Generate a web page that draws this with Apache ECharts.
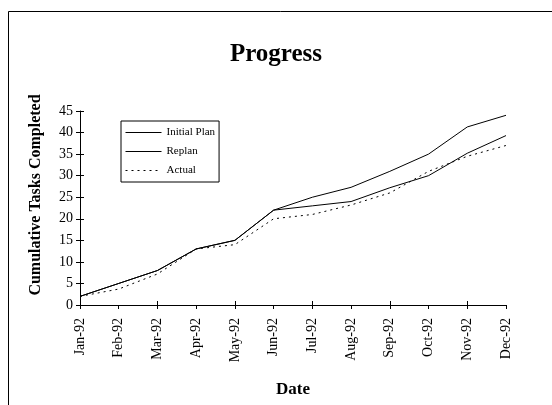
<!DOCTYPE html>
<html><head><meta charset="utf-8">
<script src="https://cdn.jsdelivr.net/npm/echarts@6/dist/echarts.min.js"></script>
<style>html,body{margin:0;padding:0;background:#fff}#c{width:552px;height:405px}</style>
</head><body><div id="c"></div>
<script>
var categories = ['Jan-92','Feb-92','Mar-92','Apr-92','May-92','Jun-92','Jul-92','Aug-92','Sep-92','Oct-92','Nov-92','Dec-92'];
var initialPlan = [2, 5, 8, 13, 15, 22, 25, 27.3, 31, 35, 41.3, 44];
var replan = [2, 5, 8, 13, 15, 22, 23, 24, 27.2, 30, 35.2, 39.3];
var actual = [2, 3.7, 7.2, 13, 14, 20, 21, 23.2, 26, 31, 34.5, 37];
var yTicks = [0, 5, 10, 15, 20, 25, 30, 35, 40, 45];

var F = '"Liberation Serif", "Times New Roman", serif';
var chart = echarts.init(document.getElementById('c'), null, {renderer: 'canvas'});
function mk(name, data, type) {
  return {name: name, type: 'line', data: data, symbol: 'none', showSymbol: false, animation: false,
    xAxisIndex: 0, yAxisIndex: 0,
    lineStyle: {color: '#000', width: 1, type: type}, itemStyle: {color: '#000'}};
}
chart.setOption({
  animation: false,
  backgroundColor: '#fff',
  graphic: [{type: 'rect', shape: {x: 8.5, y: 11.5, width: 600, height: 500}, style: {fill: 'none', stroke: '#000', lineWidth: 1}, silent: true}],
  title: {text: 'Progress', left: 'center', top: 37, textStyle: {fontFamily: F, fontSize: 25, fontWeight: 'bold', color: '#000'}},
  grid: {left: 80, right: 46, top: 111, bottom: 100},
  legend: {orient: 'vertical', left: 121, top: 121, padding: [6, 4, 6, 4], itemGap: 8, itemWidth: 36, itemHeight: 8,
    borderColor: '#000', borderWidth: 1, backgroundColor: '#fff', borderRadius: 0,
    itemStyle: {opacity: 0, color: 'rgba(0,0,0,0)', borderWidth: 0},
    lineStyle: {width: 1},
    textStyle: {fontFamily: F, fontSize: 11, color: '#000'},
    data: ['Initial Plan', 'Replan', 'Actual']},
  xAxis: [{type: 'category', data: categories, boundaryGap: false,
    name: 'Date', nameLocation: 'middle', nameGap: 76,
    nameTextStyle: {fontFamily: F, fontSize: 17, fontWeight: 'bold', color: '#000'},
    axisLine: {lineStyle: {color: '#000', width: 1}},
    axisTick: {length: 4, lineStyle: {color: '#000'}},
    axisLabel: {rotate: 90, interval: 0, fontFamily: F, fontSize: 14, color: '#000', margin: 13},
    splitLine: {show: false}},
   {type: 'category', data: categories, boundaryGap: false, position: 'bottom', offset: 0,
    axisLine: {show: false}, axisLabel: {show: false},
    axisTick: {inside: true, length: 4, lineStyle: {color: '#000'}}, splitLine: {show: false}}],
  yAxis: [{type: 'value', min: 0, max: 45, interval: 5,
    name: 'Cumulative Tasks Completed', nameLocation: 'middle', nameGap: 36,
    nameTextStyle: {fontFamily: F, fontSize: 16, fontWeight: 'bold', color: '#000', padding: [0, 0, 0, 26]},
    axisLine: {show: true, lineStyle: {color: '#000', width: 1}},
    axisTick: {show: true, length: 4, lineStyle: {color: '#000'}},
    axisLabel: {fontFamily: F, fontSize: 14, color: '#000', margin: 7,
      formatter: function (v) { return yTicks.indexOf(v) >= 0 ? String(v) : ''; }},
    splitLine: {show: false}},
   {type: 'value', min: 0, max: 45, interval: 5, position: 'left', offset: 0,
    axisLine: {show: false}, axisLabel: {show: false},
    axisTick: {show: true, inside: true, length: 4, lineStyle: {color: '#000'}}, splitLine: {show: false}}],
  series: [mk('Initial Plan', initialPlan, 'solid'), mk('Replan', replan, 'solid'), mk('Actual', actual, [2, 4])]
});
</script></body></html>
